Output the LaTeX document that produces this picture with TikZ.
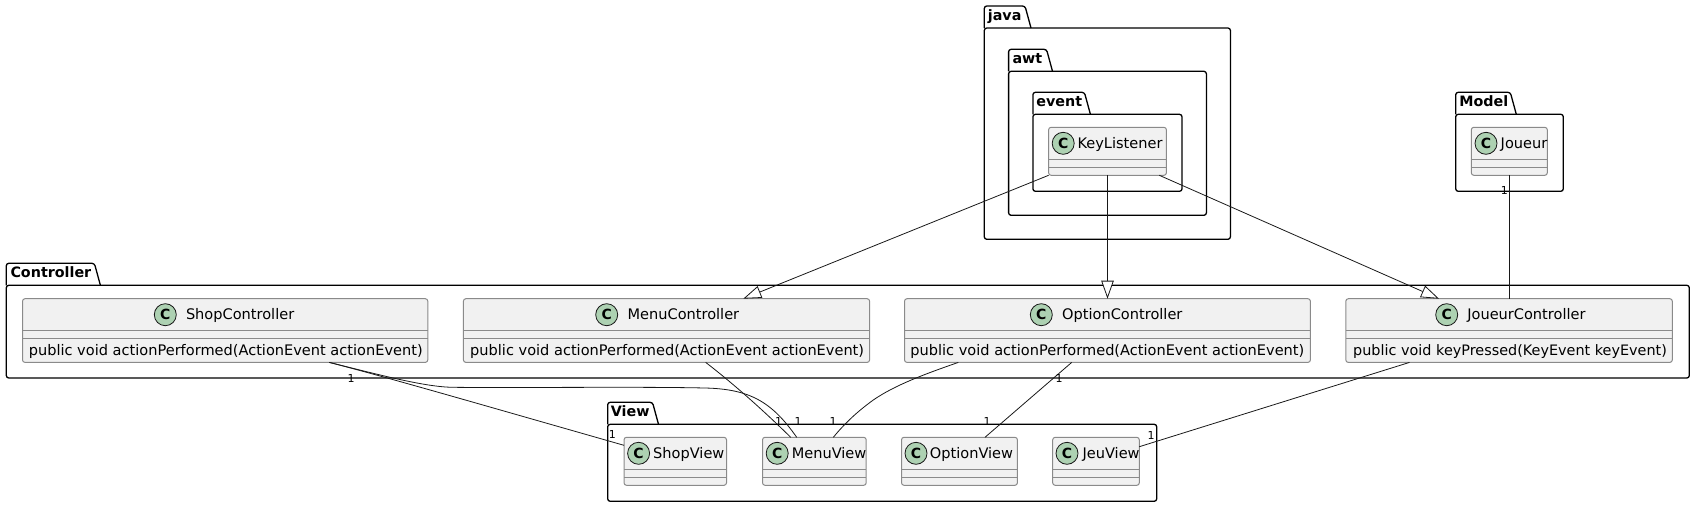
\documentclass[tikz,border=0pt]{standalone}
\usepackage{fontspec}
\setmainfont{DejaVu Sans}
\usetikzlibrary{arrows.meta}
\definecolor{clsfill}{HTML}{F1F1F1}
\definecolor{clsedge}{HTML}{8A8A8A}
\definecolor{circfill}{HTML}{ADD1B2}
\definecolor{ink}{HTML}{181818}
\tikzset{
  pkgline/.style={draw=black,line width=1.3pt,rounded corners=2.5pt,line join=round},
  pkgbody/.style={pkgline,rectangle,inner sep=0pt,outer sep=0pt},
  pkgtext/.style={inner sep=0pt,outer sep=0pt,anchor=base west,font=\fontsize{14.3}{16}\selectfont\bfseries},
  clsbody/.style={rectangle,draw=clsedge,fill=clsfill,line width=1pt,rounded corners=2.5pt,inner sep=0pt,outer sep=0pt},
  clsline/.style={draw=clsedge,line width=1pt},
  clstext/.style={inner sep=0pt,outer sep=0pt,anchor=base west,text=black,font=\fontsize{14.56}{16}\selectfont},
  circ/.style={circle,draw=ink,fill=circfill,line width=.8pt,minimum size=22pt,inner sep=0pt,outer sep=0pt,font=\fontsize{14}{16}\selectfont\bfseries},
  conn/.style={draw=ink,line width=.8pt},
  inh/.style={conn,-{Triangle[open,fill=white,length=18pt,width=12.5pt]}},
  mult/.style={inner sep=0pt,outer sep=0pt,text=black,font=\fontsize{11}{13}\selectfont},
}
% name, left, right, tab top, bottom, tab right, label x, label
\newcommand\pkgshape[8]{%
  \pgfmathsetmacro\pw{#3-#2}\pgfmathsetmacro\pb{#4+22}\pgfmathsetmacro\ph{#5-\pb}%
  \pgfmathsetmacro\px{(#2+#3)/2}\pgfmathsetmacro\py{(\pb+#5)/2}\pgfmathsetmacro\pl{#4+14.6}%
  \node[pkgbody,minimum width=\pw pt,minimum height=\ph pt] (#1) at (\px,\py) {};
  \draw[pkgline] (#2,\pb) -- (#2,#4) -- ({#6-6},#4) -- (#6,\pb);
  \node[pkgtext] (#1-name) at (#7,\pl) {#8};
}
% name, left, right, top, height, circle x, title x, title
\newcommand\clsbox[8]{%
  \pgfmathsetmacro\cw{#3-#2}\pgfmathsetmacro\cx{(#2+#3)/2}\pgfmathsetmacro\cy{#4+#5/2}%
  \pgfmathsetmacro\sa{#4+32}\pgfmathsetmacro\sb{#4+40}\pgfmathsetmacro\cc{#4+16}\pgfmathsetmacro\tb{#4+21}%
  \node[clsbody,minimum width=\cw pt,minimum height=#5 pt] (#1) at (\cx,\cy) {};
  \draw[clsline] (#2,\sa) -- (#3,\sa) (#2,\sb) -- (#3,\sb);
  \node[circ] (#1-c) at (#6,\cc) {C};
  \node[clstext] (#1-title) at (#7,\tb) {#8};
}
\begin{document}
\begin{tikzpicture}[x=1pt,y=-1pt]
\useasboundingbox (0,0) rectangle (1695,507);
% packages
\pkgshape{java}{984.3}{1230.4}{6}{239.3}{1031}{987.9}{java}
\pkgshape{awt}{1008.6}{1206.4}{49.3}{215.3}{1052.5}{1012.5}{awt}
\pkgshape{event}{1032.9}{1182}{92.3}{191.3}{1090.4}{1036.4}{event}
\pkgshape{model}{1455.7}{1563.3}{92.3}{191.3}{1516.3}{1459.3}{Model}
\pkgshape{controller}{6.3}{1689.3}{263.3}{378}{100.4}{10.5}{Controller}
\pkgshape{view}{607.7}{1156.7}{402.3}{501.3}{658.5}{610.9}{View}
% classes
\clsbox{keyl}{1048.6}{1166.4}{127.3}{48}{1063.2}{1077.5}{KeyListener}
\clsbox{joueur}{1471.3}{1547.3}{127.3}{48}{1486}{1500.7}{Joueur}
\clsbox{shopc}{22.5}{427.8}{298.7}{63.7}{165.3}{186}{ShopController}
\clsbox{menuc}{463.4}{869.6}{298.7}{63.7}{606.7}{627.6}{MenuController}
\clsbox{optc}{904.5}{1310.4}{298.7}{63.7}{1041.3}{1062.2}{OptionController}
\clsbox{jouc}{1345.8}{1672.3}{298.7}{63.7}{1446.7}{1467.3}{JoueurController}
\clsbox{shopv}{624}{726.5}{437.3}{48}{638.6}{653.2}{ShopView}
\clsbox{menuv}{762.5}{866.2}{437.3}{48}{777.2}{791.8}{MenuView}
\clsbox{optv}{901.5}{1017.4}{437.3}{48}{916}{929.9}{OptionView}
\clsbox{jeuv}{1052.7}{1139.3}{437.3}{48}{1067}{1082.6}{JeuView}
\node[clstext] (shopc-m) at (28.8,355) {public void actionPerformed(ActionEvent actionEvent)};
\node[clstext] (menuc-m) at (470.2,355) {public void actionPerformed(ActionEvent actionEvent)};
\node[clstext] (optc-m) at (910.4,355) {public void actionPerformed(ActionEvent actionEvent)};
\node[clstext,font=\fontsize{14.4}{16}\selectfont] (jouc-m) at (1353.2,355) {public void keyPressed(KeyEvent keyEvent)};
% inheritance
\draw[inh] (keyl.south west) -- ([xshift=279.9pt]menuc.north west);
\draw[inh] ([xshift=58.9pt]keyl.south west) -- ([xshift=203pt]optc.north west);
\draw[inh] ([xshift=110.7pt]keyl.south west) -- ([xshift=93.2pt]jouc.north west);
% associations
\draw[conn] ([xshift=38.2pt]joueur.south west) -- ([xshift=163.7pt]jouc.north west);
\draw[conn] ([xshift=306.8pt]shopc.south west) .. controls (390,378) and (500,410) .. ([yshift=-8pt]shopv.north west);
\draw[conn] ([xshift=306.8pt]shopc.south west) .. controls (380,375) and (425,387) .. (453,387.3)
  .. controls (520,388) and (640,386.5) .. (705,388)
  .. controls (750,389) and (772,402) .. ([xshift=34.2pt]menuv.north west);
\draw[conn] ([xshift=242.3pt]menuc.south west) .. controls (735,385) and (765,412) .. ([xshift=28.2pt]menuv.north west);
\draw[conn] ([xshift=53.8pt]optc.south west) .. controls (925,374) and (895,385) .. (873.3,400)
  .. controls (858,411) and (845,423) .. ([xshift=70.8pt]menuv.north west);
\draw[conn] ([xshift=167.2pt]optc.south west) -- ([xshift=83.5pt]optv.north west);
\draw[conn] ([xshift=63.7pt]jouc.south west) -- ([yshift=-9.4pt]jeuv.north east);
% multiplicities
\node[mult] (m1) at (1504.3,190.5) {1};
\node[mult] (m2) at (351,378) {1};
\node[mult] (m3) at (612.3,434.3) {1};
\node[mult] (m4) at (778.7,421.7) {1};
\node[mult] (m5) at (798,421.7) {1};
\node[mult] (m6) at (833,421.7) {1};
\node[mult] (m7) at (1059,378) {1};
\node[mult] (m8) at (987,421.7) {1};
\node[mult] (m9) at (1151,435.7) {1};
\end{tikzpicture}
\end{document}
